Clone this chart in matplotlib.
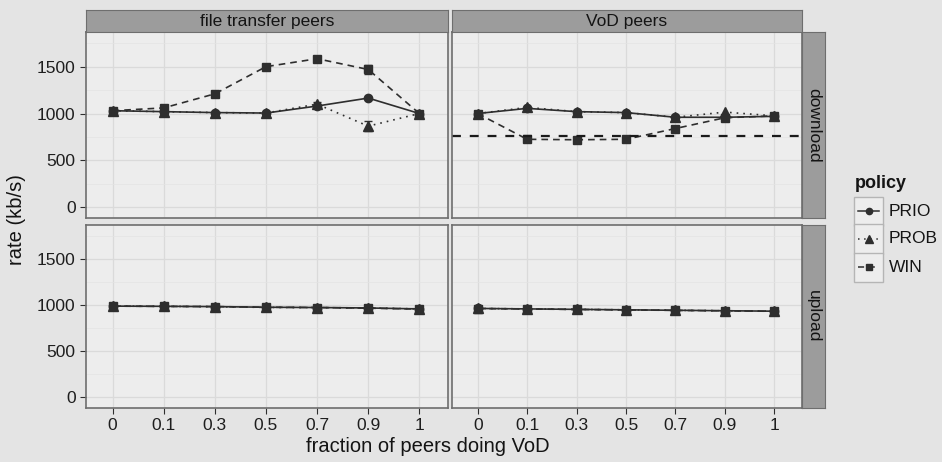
import numpy as np
import matplotlib.pyplot as plt
from matplotlib.lines import Line2D
from matplotlib.patches import Rectangle

plt.rcParams['font.family'] = ['Liberation Sans', 'DejaVu Sans']

# x categories (fraction of peers doing VoD)
fractions = ["0", "0.1", "0.3", "0.5", "0.7", "0.9", "1"]

# download rates [kb/s]
dl_ft_prio = [1030, 1020, 1010, 1005, 1080, 1165, 1000]
dl_ft_prob = [1030, 1020, 1010, 1005, 1100, 865, 1000]
dl_ft_win = [1030, 1060, 1210, 1500, 1585, 1470, 1000]
dl_ft_prob_err = [10, 10, 10, 10, 20, 55, 10]
dl_ft_win_err = [10, 15, 15, 15, 15, 45, 10]

dl_vod_prio = [1000, 1055, 1020, 1010, 960, 960, 970]
dl_vod_prob = [1000, 1065, 1020, 1010, 960, 1015, 975]
dl_vod_win = [1000, 725, 720, 725, 840, 955, 975]
vod_rate = 760  # reference line in VoD download panel

# upload rates [kb/s]
ul_ft_prio = [990, 988, 985, 978, 975, 970, 960]
ul_ft_prob = [990, 988, 984, 976, 974, 970, 960]
ul_ft_win = [990, 987, 985, 978, 975, 968, 958]
ul_vod_prio = [965, 960, 955, 950, 945, 940, 935]
ul_vod_prob = [965, 960, 955, 950, 945, 940, 935]
ul_vod_win = [964, 959, 954, 949, 944, 939, 934]

col_titles = ["file transfer peers", "VoD peers"]
row_titles = ["download", "upload"]

bg = "#e4e4e4"
panel_bg = "#ededed"
strip_bg = "#9c9c9c"
border = "#6e6e6e"
ink = "#2e2e2e"

styles = {
    "PRIO": dict(ls="-", marker="o", ms=6),
    "PROB": dict(ls=(0, (1, 3)), marker="^", ms=7),
    "WIN": dict(ls=(0, (4, 3)), marker="s", ms=6),
}

fig = plt.figure(figsize=(9.42, 4.62), dpi=100, facecolor=bg)
W, H = 942.0, 462.0

cols = [(86, 448), (452, 802)]
rows = [(32, 218), (225, 408)]

data = [
    [(dl_ft_prio, dl_ft_prob, dl_ft_win), (dl_vod_prio, dl_vod_prob, dl_vod_win)],
    [(ul_ft_prio, ul_ft_prob, ul_ft_win), (ul_vod_prio, ul_vod_prob, ul_vod_win)],
]
errs = [
    [(None, dl_ft_prob_err, dl_ft_win_err), (None, None, None)],
    [(None, None, None), (None, None, None)],
]

x = np.arange(len(fractions))
for r, (y0, y1) in enumerate(rows):
    for c, (x0, x1) in enumerate(cols):
        ax = fig.add_axes([x0 / W, 1 - y1 / H, (x1 - x0) / W, (y1 - y0) / H])
        ax.set_facecolor(panel_bg)
        ax.set_xlim(-0.52, 6.56)
        ax.set_ylim(-115, 1870)
        ax.set_yticks([0, 500, 1000, 1500])
        ax.set_yticks([250, 750, 1250, 1750], minor=True)
        ax.set_xticks(x)
        ax.grid(True, which="major", color="#dadada", lw=0.9)
        ax.grid(True, which="minor", axis="y", color="#e3e3e3", lw=0.5)
        ax.set_axisbelow(True)
        for s in ax.spines.values():
            s.set_color(border)
            s.set_linewidth(1.2)
        ax.tick_params(which="minor", length=0)
        ax.tick_params(which="major", color=ink, length=4, labelsize=12.5,
                       labelcolor="#1e1e1e")
        if c == 0:
            ax.set_yticklabels(["0", "500", "1000", "1500"])
        else:
            ax.tick_params(axis="y", length=0, labelleft=False)
        if r == 1:
            ax.set_xticklabels(fractions)
        else:
            ax.tick_params(axis="x", length=0, labelbottom=False)

        for (name, st), ys, er in zip(styles.items(), data[r][c], errs[r][c]):
            ax.plot(x, ys, color=ink, lw=1.2, mec=ink, mfc=ink, **st)
            if er is not None:
                ax.errorbar(x, ys, yerr=er, fmt="none", ecolor=ink,
                            elinewidth=1.0, capsize=3)
        if r == 0 and c == 1:
            ax.axhline(vod_rate, color="#1a1a1a", lw=1.6, ls=(0, (4, 4)))

        # strips
        if r == 0:
            sax = fig.add_axes([x0 / W, 1 - y0 / H, (x1 - x0) / W, 22 / H])
            sax.set_facecolor(strip_bg)
            sax.set_xticks([])
            sax.set_yticks([])
            for s in sax.spines.values():
                s.set_color(border)
            sax.text(0.5, 0.48, col_titles[c], ha="center", va="center",
                     fontsize=12.5, color="#141414")
        if c == 1:
            sax = fig.add_axes([x1 / W, 1 - y1 / H, 23 / W, (y1 - y0) / H])
            sax.set_facecolor(strip_bg)
            sax.set_xticks([])
            sax.set_yticks([])
            for s in sax.spines.values():
                s.set_color(border)
            sax.text(0.5, 0.5, row_titles[r], ha="center", va="center",
                     rotation=-90, fontsize=12.5, color="#141414")

fig.text(428 / W, 1 - 447 / H, "fraction of peers doing VoD", ha="center",
         va="center", fontsize=14.5, color="#141414")
fig.text(17 / W, 1 - 220 / H, "rate (kb/s)", ha="center", va="center",
         rotation=90, fontsize=14.5, color="#141414")

# legend drawn by hand, ggplot style key boxes
fig.text(855 / W, 1 - 184 / H, "policy", ha="left", va="center",
         fontsize=13, fontweight="bold", color="#141414")
for i, (name, st) in enumerate(styles.items()):
    yc = 1 - (211 + 28 * i) / H
    fig.patches.append(Rectangle((854 / W, yc - 14.5 / H), 29 / W, 29 / H,
                                 transform=fig.transFigure, fc="#ededed",
                                 ec="#b5b5b5", lw=1.0))
    fig.add_artist(Line2D([858 / W, 879 / W], [yc, yc], color=ink, lw=1.1,
                          ls=st["ls"], transform=fig.transFigure))
    fig.add_artist(Line2D([868.5 / W], [yc], color=ink, marker=st["marker"],
                          ms=st["ms"] - 1.5, mfc=ink, mec=ink, ls="none",
                          transform=fig.transFigure))
    fig.text(889 / W, yc, name, ha="left", va="center", fontsize=12.5,
             color="#141414")

fig.savefig("out.png", dpi=100, facecolor=bg)
